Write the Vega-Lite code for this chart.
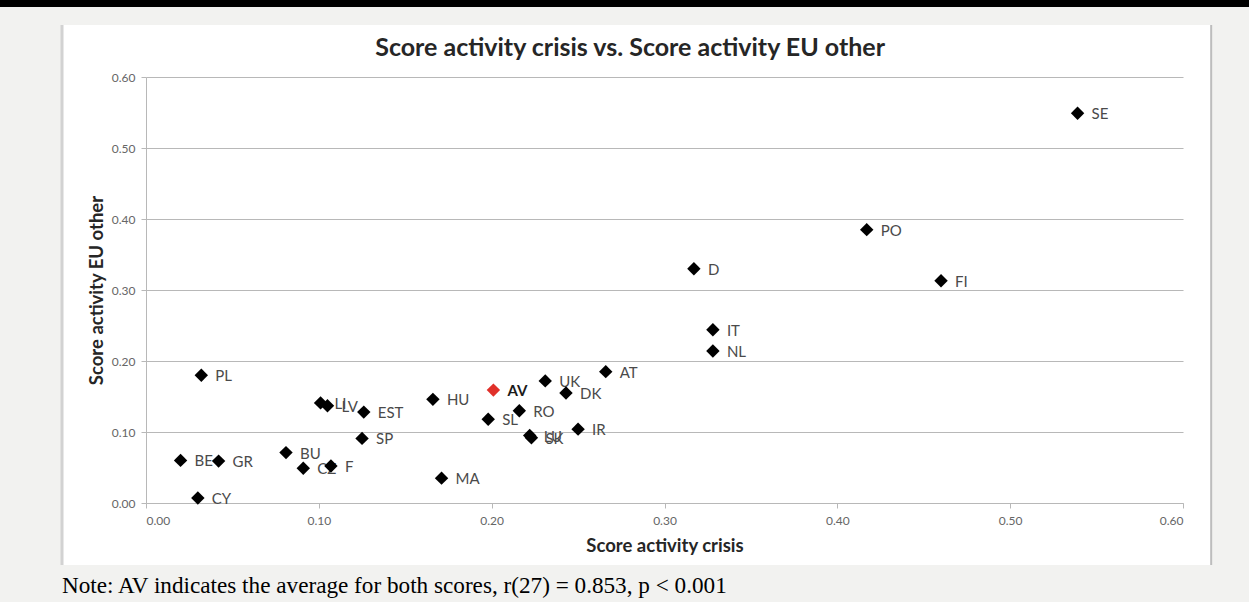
{
  "$schema": "https://vega.github.io/schema/vega-lite/v6.json",
  "autosize": {"type": "none"},
  "width": 1037,
  "height": 426,
  "padding": {"left": 146, "top": 77, "right": 66, "bottom": 99},
  "background": "#ffffff",
  "config": {
    "view": {"stroke": null},
    "axis": {"labelFont": "Lato", "titleFont": "Lato"}
  },
  "datasets": {
    "pts": [
      {"c": "SE", "x": 0.539, "y": 0.549},
      {"c": "PO", "x": 0.417, "y": 0.385},
      {"c": "FI", "x": 0.460, "y": 0.313},
      {"c": "D", "x": 0.317, "y": 0.330},
      {"c": "IT", "x": 0.328, "y": 0.244},
      {"c": "NL", "x": 0.328, "y": 0.214},
      {"c": "AT", "x": 0.266, "y": 0.185},
      {"c": "UK", "x": 0.231, "y": 0.172},
      {"c": "DK", "x": 0.243, "y": 0.155},
      {"c": "HU", "x": 0.166, "y": 0.146},
      {"c": "RO", "x": 0.216, "y": 0.130},
      {"c": "SL", "x": 0.198, "y": 0.118},
      {"c": "LU", "x": 0.222, "y": 0.095},
      {"c": "SK", "x": 0.223, "y": 0.092},
      {"c": "IR", "x": 0.250, "y": 0.104},
      {"c": "MA", "x": 0.171, "y": 0.035},
      {"c": "EST", "x": 0.126, "y": 0.128},
      {"c": "SP", "x": 0.125, "y": 0.091},
      {"c": "LI", "x": 0.101, "y": 0.141},
      {"c": "LV", "x": 0.105, "y": 0.137},
      {"c": "PL", "x": 0.032, "y": 0.180},
      {"c": "BU", "x": 0.081, "y": 0.071},
      {"c": "CZ", "x": 0.091, "y": 0.049},
      {"c": "F", "x": 0.107, "y": 0.052},
      {"c": "BE", "x": 0.020, "y": 0.060},
      {"c": "GR", "x": 0.042, "y": 0.059},
      {"c": "CY", "x": 0.030, "y": 0.007},
      {"c": "AV", "x": 0.201, "y": 0.159}
    ],
    "one": [{"k": 1}]
  },
  "layer": [
    {
      "data": {"name": "pts"},
      "transform": [{"filter": "datum.c !== 'AV'"}],
      "mark": {"type": "text", "font": "Lato", "fontSize": 15, "color": "#4a4a4a", "align": "left", "baseline": "middle", "dx": 14, "dy": 1},
      "encoding": {
        "x": {"field": "x", "type": "quantitative"},
        "y": {"field": "y", "type": "quantitative"},
        "text": {"field": "c"}
      }
    },
    {
      "data": {"name": "pts"},
      "transform": [{"filter": "datum.c === 'AV'"}],
      "mark": {"type": "text", "font": "Lato", "fontSize": 15, "fontWeight": "bold", "color": "#1a1a1a", "align": "left", "baseline": "middle", "dx": 14, "dy": 1},
      "encoding": {
        "x": {"field": "x", "type": "quantitative"},
        "y": {"field": "y", "type": "quantitative"},
        "text": {"field": "c"}
      }
    },
    {
      "data": {"name": "pts"},
      "mark": {"type": "point", "shape": "diamond", "filled": true, "size": 180, "opacity": 1},
      "encoding": {
        "x": {
          "field": "x", "type": "quantitative",
          "scale": {"domain": [0, 0.6], "nice": false},
          "axis": {
            "title": "Score activity crisis",
            "titleFontSize": 18.5, "titleFontWeight": "bold", "titleColor": "#262626", "titlePadding": 10,
            "values": [0, 0.1, 0.2, 0.3, 0.4, 0.5, 0.6], "format": ".2f",
            "labelFontSize": 12, "labelColor": "#666666", "labelPadding": 7,
            "grid": false, "domainColor": "#b8b8b8", "tickColor": "#b8b8b8", "tickSize": 5
          }
        },
        "y": {
          "field": "y", "type": "quantitative",
          "scale": {"domain": [0, 0.6], "nice": false},
          "axis": {
            "title": "Score activity EU other",
            "titleFontSize": 18.5, "titleFontWeight": "bold", "titleColor": "#262626", "titlePadding": 5,
            "values": [0, 0.1, 0.2, 0.3, 0.4, 0.5, 0.6], "format": ".2f",
            "labelFontSize": 12, "labelColor": "#666666", "labelPadding": 6,
            "grid": true, "gridColor": "#b8b8b8", "gridWidth": 1.2, "domainColor": "#b8b8b8", "tickColor": "#b8b8b8", "tickSize": 5
          }
        },
        "color": {
          "condition": {"test": "datum.c === 'AV'", "value": "#e0302a"},
          "value": "#000000"
        }
      }
    },
    {
      "data": {"name": "one"},
      "mark": {"type": "rect", "color": "#f2f2f0", "clip": false},
      "encoding": {
        "x": {"datum": -0.2, "type": "quantitative"},
        "x2": {"datum": 0.8},
        "y": {"datum": 0.6732, "type": "quantitative"},
        "y2": {"datum": 0.76}
      }
    },
    {
      "data": {"name": "one"},
      "mark": {"type": "rect", "color": "#f2f2f0", "clip": false},
      "encoding": {
        "x": {"datum": -0.2, "type": "quantitative"},
        "x2": {"datum": -0.0486},
        "y": {"datum": 0.6732, "type": "quantitative"},
        "y2": {"datum": -0.3}
      }
    },
    {
      "data": {"name": "one"},
      "mark": {"type": "rect", "color": "#f2f2f0", "clip": false},
      "encoding": {
        "x": {"datum": 0.6163, "type": "quantitative"},
        "x2": {"datum": 0.8},
        "y": {"datum": 0.6732, "type": "quantitative"},
        "y2": {"datum": -0.3}
      }
    },
    {
      "data": {"name": "one"},
      "mark": {"type": "rect", "color": "#f2f2f0", "clip": false},
      "encoding": {
        "x": {"datum": -0.2, "type": "quantitative"},
        "x2": {"datum": 0.8},
        "y": {"datum": -0.0873, "type": "quantitative"},
        "y2": {"datum": -0.3}
      }
    },
    {
      "data": {"name": "one"},
      "mark": {"type": "rect", "color": "#000000", "clip": false},
      "encoding": {
        "x": {"datum": -0.2, "type": "quantitative"},
        "x2": {"datum": 0.8},
        "y": {"datum": 0.6986, "type": "quantitative"},
        "y2": {"datum": 0.76}
      }
    },
    {
      "data": {"name": "one"},
      "mark": {"type": "rule", "color": "#d2d2d2", "strokeWidth": 3, "clip": false},
      "encoding": {
        "x": {"datum": -0.0486, "type": "quantitative"},
        "y": {"datum": 0.6732, "type": "quantitative"},
        "y2": {"datum": -0.0873}
      }
    },
    {
      "data": {"name": "one"},
      "mark": {"type": "rule", "color": "#bdbdbd", "strokeWidth": 2, "clip": false},
      "encoding": {
        "x": {"datum": 0.6163, "type": "quantitative"},
        "y": {"datum": 0.6732, "type": "quantitative"},
        "y2": {"datum": -0.0873}
      }
    },
    {
      "data": {"name": "one"},
      "mark": {"type": "text", "font": "Lato", "fontSize": 25, "fontWeight": "bold", "color": "#262626", "align": "center", "baseline": "alphabetic", "clip": false, "text": "Score activity crisis vs. Score activity EU other"},
      "encoding": {
        "x": {"datum": 0.2801, "type": "quantitative"},
        "y": {"datum": 0.6296, "type": "quantitative"}
      }
    },
    {
      "data": {"name": "one"},
      "mark": {"type": "text", "font": "Liberation Serif", "fontSize": 23.2, "color": "#000000", "align": "left", "baseline": "alphabetic", "clip": false, "text": "Note: AV indicates the average for both scores, r(27) = 0.853, p < 0.001"},
      "encoding": {
        "x": {"datum": -0.0486, "type": "quantitative"},
        "y": {"datum": -0.1268, "type": "quantitative"}
      }
    }
  ]
}
